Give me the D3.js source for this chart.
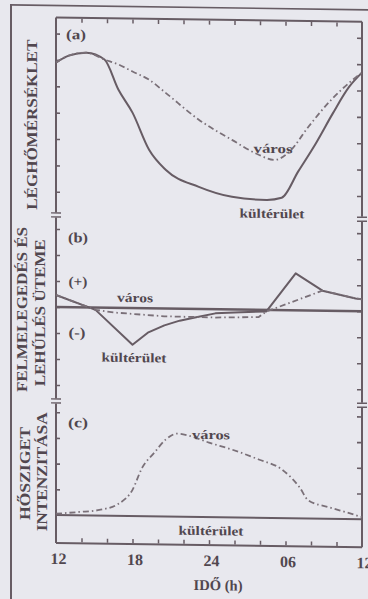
<!DOCTYPE html>
<html><head><meta charset="utf-8">
<script src="https://cdn.jsdelivr.net/npm/d3@7"></script>
<style>
html,body{margin:0;padding:0;background:#e8e8ee;}
svg{display:block;}
text{font-family:"Liberation Serif","Times New Roman",serif;font-weight:bold;fill:#51474f;}
</style></head><body>
<svg id="chart" width="368" height="599"></svg>
<script>
// Time axis (hours, 12 = noon of day one, 36 = noon of day two)
const hourTicks = [12, 18, 24, 30, 36];
const hourLabels = ["12", "18", "24", "06", "12"];
const minorHours = d3.range(14, 36, 2);

// (a) air temperature, relative units
const airTempRural = [[12,5.90],[13.0,6.17],[14.4,6.29],[15.8,6.04],[16.9,4.90],[18.0,4.04],[19.3,2.64],[20.6,1.89],[23.2,1.26],[25.8,0.90],[28.5,0.80],[29.7,0.89],[31.0,1.90],[32.4,2.99],[33.7,4.11],[35.0,5.14],[36,5.68]];
const airTempUrban = [[12,5.90],[13.0,6.17],[14.4,6.29],[15.8,6.04],[16.9,5.86],[18.0,5.60],[19.3,5.30],[20.6,4.81],[23.2,3.81],[25.8,3.06],[27.9,2.51],[29.1,2.32],[30.3,2.64],[31.8,3.60],[33.6,4.64],[35.0,5.29],[36,5.68]];

// (b) warming / cooling rate, relative units (0 = no change)
const rateRural = [[12,0.46],[15.1,-0.09],[18.0,-1.41],[19.2,-0.94],[20.5,-0.65],[21.7,-0.46],[22.9,-0.33],[24.5,-0.16],[26.5,-0.10],[28.5,-0.06],[30.8,1.42],[32.9,0.77],[35.5,0.49],[36,0.46]];
const rateUrban = [[12,0.46],[15.1,-0.09],[16.5,-0.18],[20.5,-0.30],[24.5,-0.32],[27.9,-0.28],[28.5,-0.06],[32.9,0.77],[35.5,0.49],[36,0.46]];

// (c) heat-island intensity, urban minus rural
const islandUrban = [[12,0.05],[13.8,0.13],[15.4,0.22],[16.9,0.47],[18.0,1.02],[18.75,1.88],[19.7,2.47],[20.6,2.99],[21.5,3.23],[22.4,3.16],[24.0,2.90],[25.8,2.64],[27.9,2.27],[29.7,1.90],[31.1,1.21],[31.8,0.70],[33.4,0.45],[35.0,0.23],[36,0.08]];
const islandRural = [[12,0],[36,0]];

const ink = "#675c64";
const inkLight = "#7a7078";

const svg = d3.select("#chart");
const root = svg.append("g").attr("transform", "translate(0,-0.8) skewY(0.8)");

const L = 56, R = 362, T = 17.5, B = 543;
const breaks = [215, 401];
const x = d3.scaleLinear().domain([12, 36]).range([L, R]);

const panels = [
  {top: T, bottom: breaks[0], domain: [0.118, 7.61], ticks: [1,2,3,4,5,6,7]},
  {top: breaks[0], bottom: breaks[1], domain: [-3.615, 3.538], ticks: [-3,-2,-1,0,1,2,3]},
  {top: breaks[1], bottom: B, domain: [-1.089, 4.436], ticks: [1,2,3,4]}
];
panels.forEach(p => { p.y = d3.scaleLinear().domain(p.domain).range([p.bottom, p.top]); });

// outer frame
root.append("line").attr("x1", 11).attr("x2", 11).attr("y1", 5).attr("y2", 605)
  .attr("stroke", ink).attr("stroke-width", 2);
root.append("line").attr("x1", 10).attr("x2", 370).attr("y1", 5.5).attr("y2", 5.5)
  .attr("stroke", ink).attr("stroke-width", 1.6);

// plot frame: top and bottom edges
root.append("line").attr("x1", L).attr("x2", R).attr("y1", T).attr("y2", T)
  .attr("stroke", ink).attr("stroke-width", 2);
root.append("line").attr("x1", L).attr("x2", R).attr("y1", B).attr("y2", B)
  .attr("stroke", ink).attr("stroke-width", 2);

// side axes per panel, with break marks between panels
panels.forEach((p, i) => {
  const y0 = i === 0 ? T : p.top + 2.5;
  const y1 = i === 2 ? B : p.bottom - 2.5;
  [L, R].forEach(xx => {
    root.append("line").attr("x1", xx).attr("x2", xx).attr("y1", y0).attr("y2", y1)
      .attr("stroke", ink).attr("stroke-width", 2);
  });
  // left axis: inward ticks
  const left = d3.axisRight(p.y).tickValues(p.ticks).tickSize(4).tickFormat("");
  const gl = root.append("g").attr("transform", `translate(${L},0)`).call(left);
  gl.select(".domain").remove();
  gl.selectAll("line").attr("stroke", ink).attr("stroke-width", 1.6);
  // right axis: inward ticks
  const right = d3.axisLeft(p.y).tickValues(p.ticks).tickSize(5).tickFormat("");
  const gr = root.append("g").attr("transform", `translate(${R},0)`).call(right);
  gr.select(".domain").remove();
  gr.selectAll("line").attr("stroke", ink).attr("stroke-width", 1.6);
});
breaks.forEach(b => {
  [L, R].forEach(xx => {
    [-2, 2].forEach(d => {
      root.append("line").attr("x1", xx - 5).attr("x2", xx + 5)
        .attr("y1", b + d).attr("y2", b + d)
        .attr("stroke", ink).attr("stroke-width", 1.4);
    });
  });
});

// top and bottom time ticks
const topAxis = d3.axisBottom(x).tickValues(minorHours).tickSize(4).tickFormat("");
const gt = root.append("g").attr("transform", `translate(0,${T + 1})`).call(topAxis);
gt.select(".domain").remove();
gt.selectAll("line").attr("stroke", ink).attr("stroke-width", 1.5);
const botAxis = d3.axisTop(x).tickValues(minorHours).tickSize(4).tickFormat("");
const gb = root.append("g").attr("transform", `translate(0,${B - 1})`).call(botAxis);
gb.select(".domain").remove();
gb.selectAll("line").attr("stroke", ink).attr("stroke-width", 1.5);

// hour labels
root.selectAll("text.hour").data(hourTicks).join("text")
  .attr("class", "hour")
  .attr("x", d => x(d) + 2.5).attr("y", 564)
  .attr("text-anchor", "middle").attr("font-size", 16)
  .text((d, i) => hourLabels[i]);
root.append("text").attr("x", 218).attr("y", 588).attr("text-anchor", "middle")
  .attr("font-size", 15).attr("textLength", 49).attr("lengthAdjust", "spacingAndGlyphs")
  .text("IDŐ (h)");

// series
function draw(panel, data, dashed, curve, width) {
  const line = d3.line().x(d => x(d[0])).y(d => panel.y(d[1])).curve(curve);
  root.append("path").datum(data).attr("d", line)
    .attr("fill", "none")
    .attr("stroke", dashed ? inkLight : ink)
    .attr("stroke-width", width)
    .attr("stroke-linejoin", "round")
    .attr("stroke-dasharray", dashed ? "6,3,1.5,3" : null);
}
const [pa, pb, pc] = panels;
draw(pa, airTempRural, false, d3.curveMonotoneX, 2);
draw(pa, airTempUrban, true, d3.curveMonotoneX, 1.8);

// zero line of panel (b)
root.append("line").attr("x1", L).attr("x2", R)
  .attr("y1", pb.y(0)).attr("y2", pb.y(0))
  .attr("stroke", ink).attr("stroke-width", 2.4);
draw(pb, rateRural, false, d3.curveLinear, 2);
draw(pb, rateUrban, true, d3.curveLinear, 1.8);

draw(pc, islandRural, false, d3.curveLinear, 2);
draw(pc, islandUrban, true, d3.curveMonotoneX, 1.8);

// text labels
function label(txt, xx, yy, size, len) {
  const t = root.append("text").attr("x", xx).attr("y", yy)
    .attr("text-anchor", "middle").attr("font-size", size).text(txt);
  if (len) t.attr("textLength", len).attr("lengthAdjust", "spacingAndGlyphs");
  return t;
}
label("(a)", 76, 39, 14, 20);
label("(b)", 78, 242, 14, 20);
label("(+)", 78, 286, 14, 19);
label("(-)", 77, 337, 14, 17);
label("(c)", 78, 427, 14, 20);

label("város", 273, 150, 13, 39);
label("kültérület", 272, 215, 13, 65);
label("város", 135, 301, 13, 36);
label("kültérület", 134, 361, 13, 65);
label("város", 211, 437, 13, 38);
label("kültérület", 211, 533, 13, 65);

// rotated axis titles
function vlabel(txt, bx, cy, len) {
  root.append("text")
    .attr("transform", `translate(${bx},${cy}) rotate(-90)`)
    .attr("text-anchor", "middle").attr("font-size", 15)
    .attr("textLength", len).attr("lengthAdjust", "spacingAndGlyphs")
    .text(txt);
}
vlabel("LÉGHŐMÉRSÉKLET", 37, 125, 170);
vlabel("FELMELEGEDÉS ÉS", 27, 310, 165);
vlabel("LEHŰLÉS ÜTEME", 45, 313, 147);
vlabel("HŐSZIGET", 30, 474, 93);
vlabel("INTENZITÁSA", 47, 472, 119);
</script>
</body></html>
